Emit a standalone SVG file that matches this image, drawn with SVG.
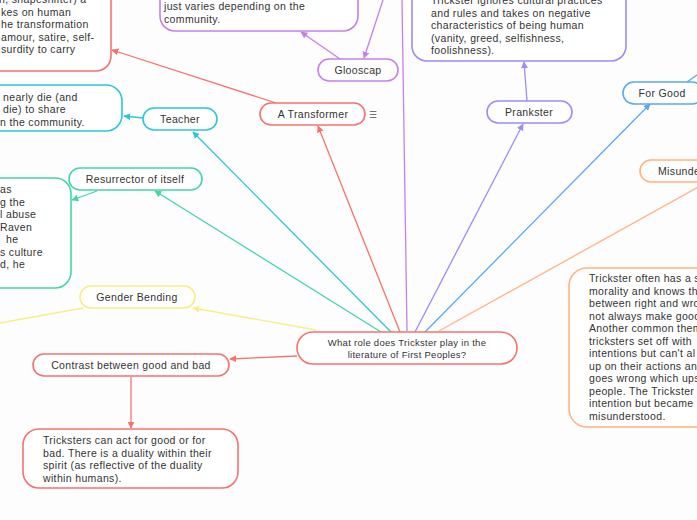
<svg xmlns="http://www.w3.org/2000/svg" width="697" height="520" viewBox="0 0 697 520">
<style>
text{font-family:"Liberation Sans",Arial,sans-serif;font-size:10.5px;letter-spacing:0.35px;fill:#333}
.c{text-anchor:middle}
.ct{font-size:9.5px;letter-spacing:0.28px}
.n{fill:#fff;stroke-width:1.6}
.e{fill:none;stroke-width:1.3}
.red{stroke:#f4736e}.teal{stroke:#2cc7d6}.green{stroke:#45d6a5}.yel{stroke:#f7ee85}
.pur{stroke:#c680e8}.lav{stroke:#a08af5}.blue{stroke:#5aa8ef}.ora{stroke:#ffb383}
</style>
<defs>
<marker id="aRed" viewBox="0 0 10 10" refX="9" refY="5" markerWidth="7" markerHeight="7" orient="auto" markerUnits="userSpaceOnUse"><path d="M0,0L10,5L0,10z" fill="#f4736e"/></marker>
<marker id="aTeal" viewBox="0 0 10 10" refX="9" refY="5" markerWidth="7" markerHeight="7" orient="auto" markerUnits="userSpaceOnUse"><path d="M0,0L10,5L0,10z" fill="#2cc7d6"/></marker>
<marker id="aGreen" viewBox="0 0 10 10" refX="9" refY="5" markerWidth="7" markerHeight="7" orient="auto" markerUnits="userSpaceOnUse"><path d="M0,0L10,5L0,10z" fill="#45d6a5"/></marker>
<marker id="aYel" viewBox="0 0 10 10" refX="9" refY="5" markerWidth="7" markerHeight="7" orient="auto" markerUnits="userSpaceOnUse"><path d="M0,0L10,5L0,10z" fill="#f7ee85"/></marker>
<marker id="aPur" viewBox="0 0 10 10" refX="9" refY="5" markerWidth="7" markerHeight="7" orient="auto" markerUnits="userSpaceOnUse"><path d="M0,0L10,5L0,10z" fill="#c680e8"/></marker>
<marker id="aLav" viewBox="0 0 10 10" refX="9" refY="5" markerWidth="7" markerHeight="7" orient="auto" markerUnits="userSpaceOnUse"><path d="M0,0L10,5L0,10z" fill="#a08af5"/></marker>
<marker id="aBlue" viewBox="0 0 10 10" refX="9" refY="5" markerWidth="7" markerHeight="7" orient="auto" markerUnits="userSpaceOnUse"><path d="M0,0L10,5L0,10z" fill="#5aa8ef"/></marker>
</defs>
<rect width="697" height="520" fill="#fdfdfd"/>
<g id="connectors">
<line class="e pur" x1="407" y1="331" x2="402" y2="0"/>
<line class="e pur" x1="383" y1="0" x2="364" y2="58" marker-end="url(#aPur)"/>
<line class="e pur" x1="340" y1="59" x2="301" y2="32" marker-end="url(#aPur)"/>
<line class="e red" x1="400" y1="332" x2="318" y2="126" marker-end="url(#aRed)"/>
<line class="e red" x1="276" y1="103" x2="112" y2="50" marker-end="url(#aRed)"/>
<line class="e teal" x1="391" y1="332" x2="193" y2="132" marker-end="url(#aTeal)"/>
<line class="e teal" x1="143" y1="118" x2="124" y2="116" marker-end="url(#aTeal)"/>
<line class="e green" x1="381" y1="332" x2="155" y2="191" marker-end="url(#aGreen)"/>
<line class="e green" x1="97" y1="191" x2="72" y2="200" marker-end="url(#aGreen)"/>
<line class="e yel" x1="316" y1="330" x2="193" y2="308" marker-end="url(#aYel)"/>
<line class="e yel" x1="83" y1="308" x2="0" y2="323"/>
<line class="e red" x1="297" y1="356" x2="230" y2="359" marker-end="url(#aRed)"/>
<line class="e red" x1="131" y1="377" x2="131" y2="428" marker-end="url(#aRed)"/>
<line class="e lav" x1="415" y1="332" x2="523" y2="124" marker-end="url(#aLav)"/>
<line class="e lav" x1="527" y1="101" x2="524" y2="62" marker-end="url(#aLav)"/>
<line class="e blue" x1="425" y1="332" x2="650" y2="104" marker-end="url(#aBlue)"/>
<line class="e blue" x1="687" y1="82" x2="700" y2="73"/>
<line class="e ora" x1="439" y1="331" x2="720" y2="175"/>
</g>
<g id="central">
<rect class="n red" x="297" y="332" width="220" height="32" rx="16"/>
<text class="c ct" x="407" y="346">What role does Trickster play in the</text>
<text class="c ct" x="407" y="358">literature of First Peoples?</text>
</g>
<g id="transformer">
<rect class="n red" x="260" y="103" width="105" height="22" rx="11"/>
<text class="c" x="313" y="118">A Transformer</text>
<text x="369" y="118" style="font-size:9px;fill:#555">☰</text>
</g>
<g id="transformer-note">
<rect class="n red" x="-30" y="-30" width="141" height="101" rx="15"/>
<text x="-1" y="3">n, shapeshifter) a</text>
<text x="1" y="15.5">kes on human</text>
<text x="1" y="28">he transformation</text>
<text x="1" y="40.5">amour, satire, self-</text>
<text x="1" y="53">surdity to carry</text>
</g>
<g id="glooscap-note">
<rect class="n pur" x="160" y="-30" width="198" height="61" rx="15"/>
<text x="164" y="10">just varies depending on the</text>
<text x="164" y="23">community.</text>
</g>
<g id="glooscap">
<rect class="n pur" x="318" y="59" width="80" height="22" rx="11"/>
<text class="c" x="358" y="74">Glooscap</text>
</g>
<g id="prankster-note">
<rect class="n lav" x="412" y="-30" width="214" height="91" rx="15"/>
<text x="431" y="4">Trickster ignores cultural practices</text>
<text x="431" y="16.5">and rules and takes on negative</text>
<text x="431" y="29">characteristics of being human</text>
<text x="431" y="41.5">(vanity, greed, selfishness,</text>
<text x="431" y="54">foolishness).</text>
</g>
<g id="prankster">
<rect class="n lav" x="487" y="101" width="85" height="22" rx="11"/>
<text class="c" x="529" y="116">Prankster</text>
</g>
<g id="for-good">
<rect class="n blue" x="623" y="82" width="80" height="22" rx="11"/>
<text class="c" x="662" y="97">For Good</text>
</g>
<g id="misunderstood">
<rect class="n ora" x="640" y="160" width="100" height="22" rx="11"/>
<text x="658" y="175">Misunderstood</text>
</g>
<g id="misunderstood-note">
<rect class="n ora" x="569" y="268" width="160" height="159" rx="18"/>
<text x="589" y="282">Trickster often has a s</text>
<text x="589" y="294.5">morality and knows th</text>
<text x="589" y="307">between right and wro</text>
<text x="589" y="319.5">not always make good</text>
<text x="589" y="332">Another common them</text>
<text x="589" y="344.5">tricksters set off with</text>
<text x="589" y="357">intentions but can't al</text>
<text x="589" y="369.5">up on their actions an</text>
<text x="589" y="382">goes wrong which ups</text>
<text x="589" y="394.5">people. The Trickster h</text>
<text x="589" y="407">intention but became</text>
<text x="589" y="419.5">misunderstood.</text>
</g>
<g id="teacher">
<rect class="n teal" x="143" y="108" width="74" height="22" rx="11"/>
<text class="c" x="180" y="123">Teacher</text>
</g>
<g id="teacher-note">
<rect class="n teal" x="-40" y="85" width="162" height="46" rx="16"/>
<text x="3" y="100.5">nearly die (and</text>
<text x="3" y="113">die) to share</text>
<text x="0" y="125.5">n the community.</text>
</g>
<g id="resurrector">
<rect class="n green" x="69" y="168" width="133" height="22" rx="11"/>
<text class="c" x="135" y="183">Resurrector of itself</text>
</g>
<g id="resurrector-note">
<rect class="n green" x="-40" y="178" width="111" height="110" rx="16"/>
<text x="0" y="193">as</text>
<text x="0" y="205.5">g the</text>
<text x="0" y="218">l abuse</text>
<text x="0" y="230.5">Raven</text>
<text x="6" y="243">he</text>
<text x="0" y="255.5">s culture</text>
<text x="0" y="268">d, he</text>
</g>
<g id="gender-bending">
<rect class="n yel" x="80" y="286" width="115" height="22" rx="11"/>
<text class="c" x="137" y="301">Gender Bending</text>
</g>
<g id="contrast">
<rect class="n red" x="33" y="354" width="196" height="22" rx="11"/>
<text class="c" x="131" y="369">Contrast between good and bad</text>
</g>
<g id="contrast-note">
<rect class="n red" x="23" y="429" width="215" height="59" rx="16"/>
<text x="43" y="444">Tricksters can act for good or for</text>
<text x="43" y="456.5">bad. There is a duality within their</text>
<text x="43" y="469">spirit (as reflective of the duality</text>
<text x="43" y="481.5">within humans).</text>
</g>
</svg>
